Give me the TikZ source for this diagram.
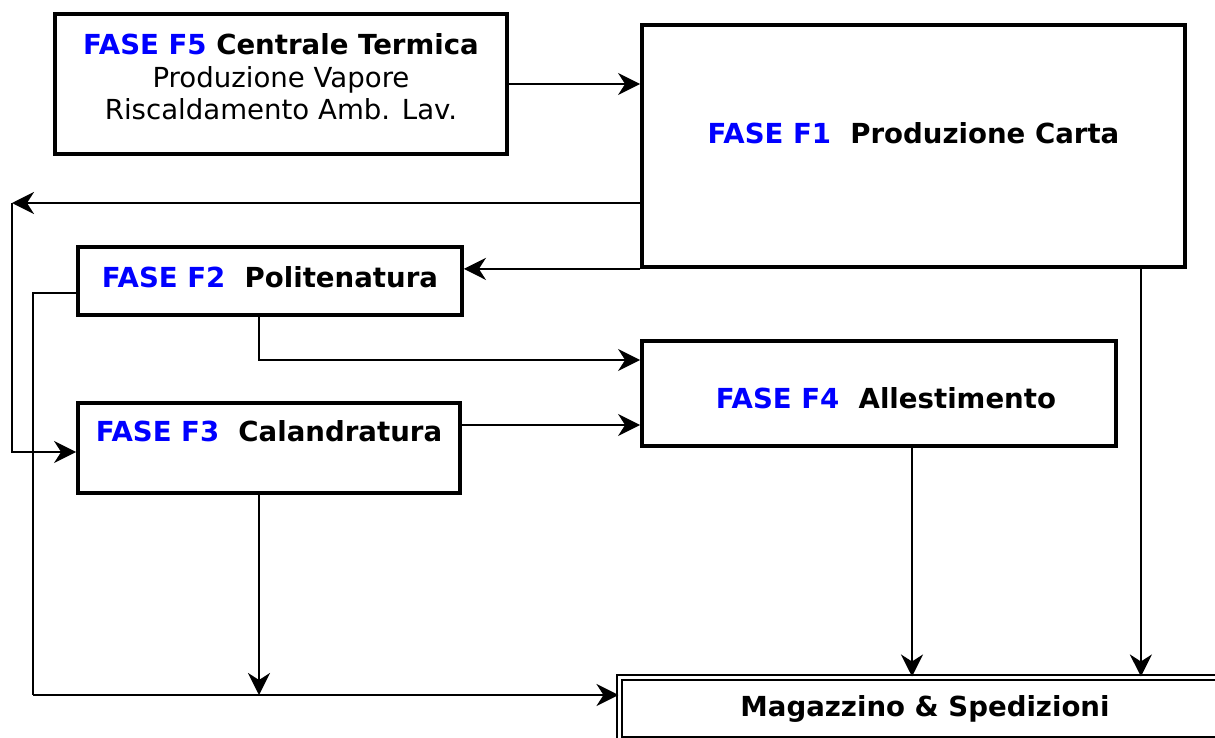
\documentclass[tikz,border=0pt]{standalone}
\usepackage{fontspec}
\setmainfont{DejaVu Sans}
\usetikzlibrary{arrows.meta,calc,positioning}
\definecolor{faseblue}{RGB}{0,0,255}
\newcommand{\fase}[1]{\textcolor{faseblue}{#1}}

\begin{document}
\begin{tikzpicture}[x=0.5pt,y=-0.5pt,
  box/.style={draw,line width=1.9pt,rectangle,inner sep=0pt,font=\fontsize{13.8}{16.25}\selectfont},
  oneline/.style={font=\fontsize{13.8}{16.25}\selectfont\bfseries,text height=10pt,text depth=#1},
  arr/.style={-{Stealth[length=11pt,width=11pt,inset=3.5pt]},line width=1.3pt},
  wire/.style={line width=1.3pt}]
\useasboundingbox (0,0) rectangle (1215,738);
\node[box,minimum width=226pt,minimum height=70pt,align=center] (f5) at (281,84)
  {\textbf{\fase{FASE F5} Centrale Termica}\\Produzione Vapore\\Riscaldamento Amb. Lav.\\[-9.25pt]};
\node[box,oneline=13pt,minimum width=271.5pt,minimum height=121pt] (f1) at (913.5,146) {\fase{FASE F1}\ \ Produzione Carta};
\node[box,oneline=4pt,minimum width=192pt,minimum height=34pt] (f2) at (270,281) {\fase{FASE F2}\ \ Politenatura};
\node[box,oneline=17pt,minimum width=191pt,minimum height=45pt] (f3) at (269,448) {\fase{FASE F3}\ \ Calandratura};
\node[box,oneline=0pt,text height=14.5pt,minimum width=237pt,minimum height=52.5pt] (f4) at (879,393.5) {\hspace{7pt}\fase{FASE F4}\ \ Allestimento};
\node[draw,double,line width=1pt,double distance=1.5pt,inner sep=0pt,oneline=2.5pt,
  minimum width=305.5pt,minimum height=31pt,anchor=north west] (mag) at (618.5,676.5) {Magazzino \& Spedizioni};
\coordinate (lt) at (12,203);
\coordinate (lb) at (33,695);
\draw[arr] (f5.east) -- (f5.east -| f1.west);
\draw[arr] (f1.west |- lt) -- (lt);
\draw[arr] (lt) |- ([yshift=-2pt]f3.west);
\draw[arr] (f1.south west) -- (f1.south west -| f2.east);
\draw[wire] ([yshift=-6pt]f2.west) -| (lb);
\draw[arr] (lb) -- (lb -| mag.west);
\draw[arr] ([xshift=-5.5pt]f2.south) |- ([yshift=16.75pt]f4.west);
\draw[arr] ([yshift=11.5pt]f3.east) -- ([yshift=11.5pt]f3.east -| f4.west);
\draw[arr] ([xshift=-5pt]f3.south) -- ([xshift=-5pt]f3.south |- lb);
\draw[arr] ([xshift=16.5pt]f4.south) -- ([xshift=16.5pt]f4.south |- mag.north);
\draw[arr] ([xshift=-23pt]f1.south east) -- ([xshift=-23pt]f1.south east |- mag.north);
\end{tikzpicture}
\end{document}
